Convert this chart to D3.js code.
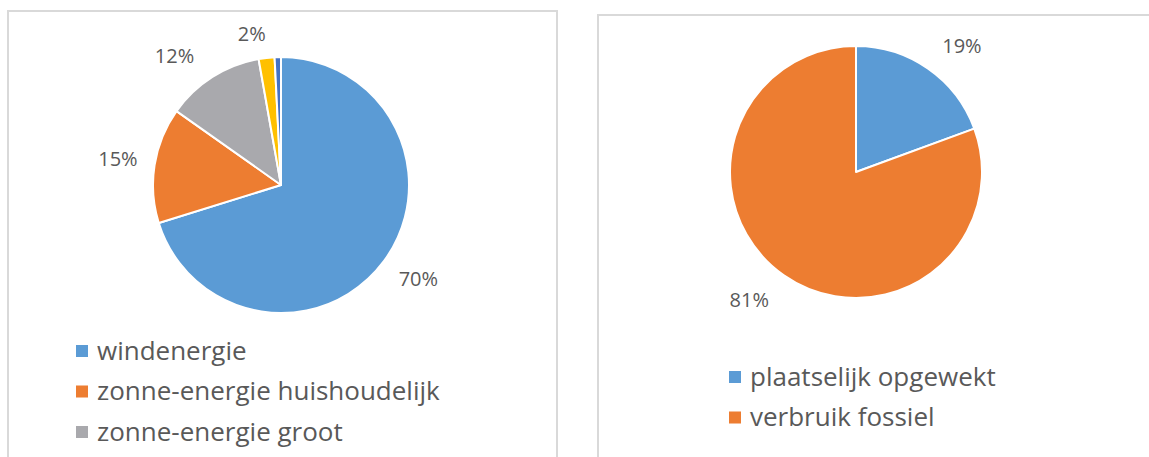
<!DOCTYPE html>
<html>
<head>
<meta charset="utf-8">
<script src="https://cdn.jsdelivr.net/npm/d3@7"></script>
<style>
  body { margin: 0; background: #fff; }
  svg { display: block; }
  text { font-family: "Open Sans", "Noto Sans", sans-serif; fill: #595959; }
</style>
</head>
<body>
<svg width="1149" height="457"></svg>
<script>
// left chart: opwek per bron
var left_categories = ["windenergie", "zonne-energie huishoudelijk", "zonne-energie groot", "overig 1", "overig 2"];
var left_values = [70.2, 14.6, 12.4, 2.0, 0.8];
var left_labels = ["70%", "15%", "12%", "2%", ""];
var left_legend = ["windenergie", "zonne-energie huishoudelijk", "zonne-energie groot"];
var left_colors = ["#5B9BD5", "#ED7D31", "#A9A9AD", "#FFC000", "#4472C4"];

// right chart: aandeel plaatselijk
var right_categories = ["plaatselijk opgewekt", "verbruik fossiel"];
var right_values = [19.4, 80.6];
var right_labels = ["19%", "81%"];
var right_colors = ["#5B9BD5", "#ED7D31"];

var svg = d3.select("svg");

// panel frames
svg.append("path")
  .attr("d", "M8,470 V11 H557 V470")
  .attr("fill", "none")
  .attr("stroke", "#D9D9D9")
  .attr("stroke-width", 2);
svg.append("path")
  .attr("d", "M598,470 V15 H1160")
  .attr("fill", "none")
  .attr("stroke", "#D9D9D9")
  .attr("stroke-width", 2);

// labels sit on a circle round the pie, nudged a bit like excel does (factor of r, shift in degrees)
function draw_pie(cx, cy, r, values, colors, labels, label_factor, label_shift) {
  var pie = d3.pie().sort(null).value((d) => d);
  var arcs = pie(values);
  var arc = d3.arc().innerRadius(0).outerRadius(r);
  var g = svg.append("g").attr("transform", "translate(" + cx + "," + cy + ")");

  g.selectAll("path")
    .data(arcs)
    .enter()
    .append("path")
    .attr("d", arc)
    .attr("fill", (d, i) => colors[i])
    .attr("stroke", "#fff")
    .attr("stroke-width", 2)
    .attr("stroke-linejoin", "round");

  g.selectAll("text")
    .data(arcs)
    .enter()
    .append("text")
    .attr("transform", function (d, i) {
      var a = (d.startAngle + d.endAngle) / 2 + (label_shift[i] * Math.PI) / 180;
      var lr = r * label_factor[i];
      return "translate(" + Math.sin(a) * lr + "," + -Math.cos(a) * lr + ")";
    })
    .attr("text-anchor", "middle")
    .attr("dy", "0.36em")
    .style("font-size", "20px")
    .text((d, i) => labels[i]);
}

function draw_legend(x, y, names, colors) {
  var g = svg.append("g").attr("transform", "translate(" + x + "," + y + ")");
  var rows = g.selectAll("g")
    .data(names)
    .enter()
    .append("g")
    .attr("transform", (d, i) => "translate(0," + i * 40.5 + ")");
  rows.append("rect")
    .attr("x", 0)
    .attr("y", -6)
    .attr("width", 12)
    .attr("height", 12)
    .attr("fill", (d, i) => colors[i]);
  rows.append("text")
    .attr("x", 21)
    .attr("dy", "0.34em")
    .style("font-size", "26px")
    .text((d) => d);
}

draw_pie(281, 185, 128, left_values, left_colors, left_labels,
  [1.3, 1.29, 1.31, 1.2, 1.2], [-2, 0, -7, -4.5, 0]);
draw_legend(76, 351, left_legend, left_colors);

draw_pie(856, 172, 126, right_values, right_colors, right_labels,
  [1.31, 1.32], [5, 5]);
draw_legend(729, 377, right_categories, right_colors);
</script>
</body>
</html>
